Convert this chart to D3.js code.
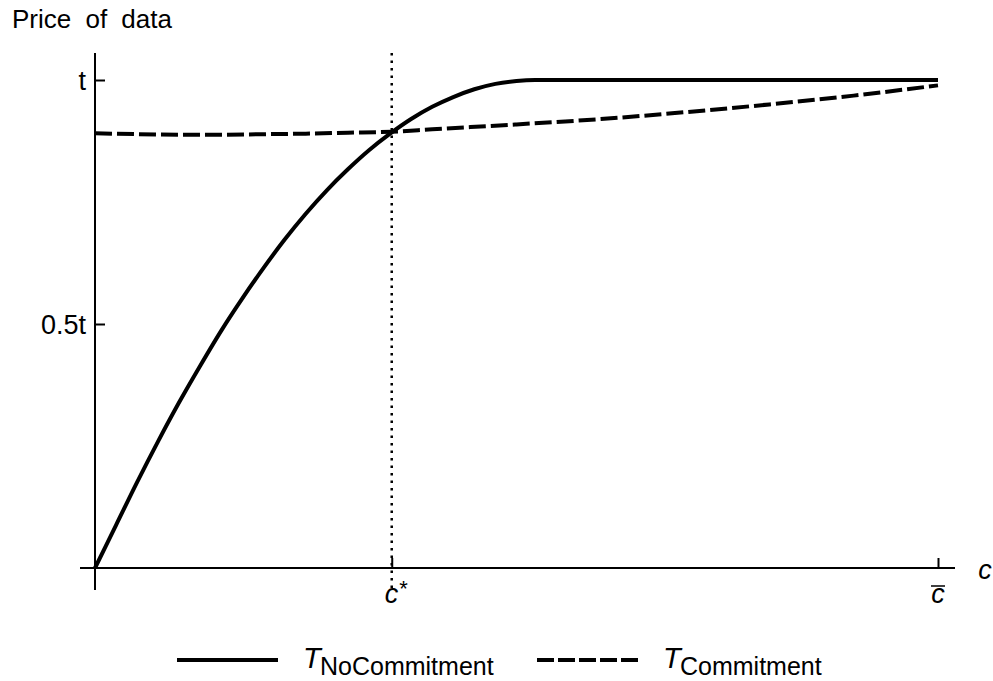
<!DOCTYPE html>
<html>
<head>
<meta charset="utf-8">
<script src="https://cdn.jsdelivr.net/npm/d3@7"></script>
<style>
	body { margin: 0; background: #fff; }
	text { font-family: "Liberation Sans", Arial, sans-serif; fill: #000; }
</style>
</head>
<body>
<div id="chart"></div>
<script>
'use strict';

// data (c as share of c-bar, price as share of t)
var cStar = 0.352;
var noCommitC = [0, 0.025, 0.05, 0.075, 0.1, 0.125, 0.15, 0.175, 0.2, 0.225, 0.25, 0.275, 0.3, 0.325, 0.35, 0.375, 0.4, 0.425, 0.45, 0.475, 0.5, 0.522, 0.6, 0.7, 0.8, 0.9, 1];
var noCommitT = [0, 0.088, 0.176, 0.26, 0.34, 0.415, 0.487, 0.553, 0.615, 0.673, 0.726, 0.774, 0.817, 0.856, 0.890, 0.920, 0.945, 0.965, 0.981, 0.992, 0.998, 1, 1, 1, 1, 1, 1];
var commitC = [0, 0.05, 0.1, 0.15, 0.2, 0.25, 0.3, 0.352, 0.4, 0.5, 0.6, 0.7, 0.8, 0.9, 1];
var commitT = [0.891, 0.889, 0.888, 0.888, 0.889, 0.890, 0.892, 0.894, 0.899, 0.909, 0.920, 0.934, 0.950, 0.968, 0.989];
var yTicks = [0.5, 1];
var yTickLabels = ['0.5t', 't'];
var legendNames = ['NoCommitment', 'Commitment'];

var width = 993, height = 681;

var svg = d3.select('#chart')
	.append('svg')
	.attr('width', width)
	.attr('height', height);

var x = d3.scaleLinear().domain([0, 1]).range([95, 938]);
var y = d3.scaleLinear().domain([0, 1]).range([568, 80]);

// axis lines run a little past the plot
var yTop = y(1) - 27, yBottom = y(0) + 22;
var xLeft = x(0) - 15, xRight = x(1) + 17;

svg.append('line')
	.attr('x1', xLeft).attr('x2', xRight)
	.attr('y1', y(0)).attr('y2', y(0))
	.attr('stroke', '#000').attr('stroke-width', 2);

svg.append('line')
	.attr('x1', x(0)).attr('x2', x(0))
	.attr('y1', yTop).attr('y2', yBottom)
	.attr('stroke', '#000').attr('stroke-width', 2);

// y ticks
var yAxis = svg.append('g')
	.attr('transform', 'translate(' + x(0) + ',0)')
	.call(d3.axisLeft(y)
		.tickValues(yTicks)
		.tickSize(-10)
		.tickPadding(9)
		.tickFormat(function (d, i) { return yTickLabels[i]; }));
yAxis.select('.domain').remove();
yAxis.selectAll('line').attr('stroke-width', 2);
yAxis.selectAll('text')
	.attr('font-size', 27)
	.attr('font-family', '"Liberation Sans", Arial, sans-serif')
	.attr('dy', '0.36em');

// x ticks
var xAxis = svg.append('g')
	.attr('transform', 'translate(0,' + y(0) + ')')
	.call(d3.axisBottom(x)
		.tickValues([cStar, 1])
		.tickSize(-10)
		.tickFormat(''));
xAxis.select('.domain').remove();
xAxis.selectAll('line').attr('stroke-width', 2);

// dotted line at c*
svg.append('line')
	.attr('x1', x(cStar)).attr('x2', x(cStar))
	.attr('y1', yTop).attr('y2', yBottom)
	.attr('stroke', '#000')
	.attr('stroke-width', 2.5)
	.attr('stroke-dasharray', '2.5,5');

// x tick labels
var cs = svg.append('text')
	.attr('x', x(cStar) - 7)
	.attr('y', y(0) + 35)
	.attr('font-size', 27)
	.attr('font-style', 'italic')
	.attr('text-anchor', 'start');
cs.append('tspan').text('c');
cs.append('tspan').attr('dy', -7).attr('dx', 1).attr('font-size', 22).attr('font-style', 'normal').text('*');

svg.append('text')
	.attr('x', x(1))
	.attr('y', y(0) + 35)
	.attr('font-size', 27)
	.attr('font-style', 'italic')
	.attr('text-anchor', 'middle')
	.text('c');
svg.append('line')
	.attr('x1', x(1) - 7).attr('x2', x(1) + 7)
	.attr('y1', y(0) + 18).attr('y2', y(0) + 18)
	.attr('stroke', '#000').attr('stroke-width', 1.5);

// axis titles
svg.append('text')
	.attr('x', xRight + 30)
	.attr('y', y(0) + 11)
	.attr('font-size', 27)
	.attr('font-style', 'italic')
	.attr('text-anchor', 'middle')
	.text('c');

svg.append('text')
	.attr('x', 12)
	.attr('y', 28)
	.attr('font-size', 26)
	.attr('word-spacing', 7)
	.text('Price of data');

// curves
var line = d3.line()
	.x(function (d) { return x(d[0]); })
	.y(function (d) { return y(d[1]); })
	.curve(d3.curveMonotoneX);

svg.append('path')
	.datum(d3.zip(noCommitC, noCommitT))
	.attr('d', line)
	.attr('fill', 'none')
	.attr('stroke', '#000')
	.attr('stroke-width', 4);

svg.append('path')
	.datum(d3.zip(commitC, commitT))
	.attr('d', line)
	.attr('fill', 'none')
	.attr('stroke', '#000')
	.attr('stroke-width', 4)
	.attr('stroke-dasharray', '17,5');

// legend
var legendX = d3.scalePoint().domain(legendNames).range([177, 537]);

legendNames.forEach(function (name, i) {
	var x0 = legendX(name);
	svg.append('line')
		.attr('x1', x0).attr('x2', x0 + 101)
		.attr('y1', 660).attr('y2', 660)
		.attr('stroke', '#000')
		.attr('stroke-width', 4)
		.attr('stroke-dasharray', i === 1 ? '17,4' : null);
	svg.append('text')
		.attr('x', x0 + 126)
		.attr('y', 668)
		.attr('font-size', 29)
		.attr('font-style', 'italic')
		.text('T');
	svg.append('text')
		.attr('x', x0 + 143)
		.attr('y', 675)
		.attr('font-size', 25)
		.text(name);
});
</script>
</body>
</html>
